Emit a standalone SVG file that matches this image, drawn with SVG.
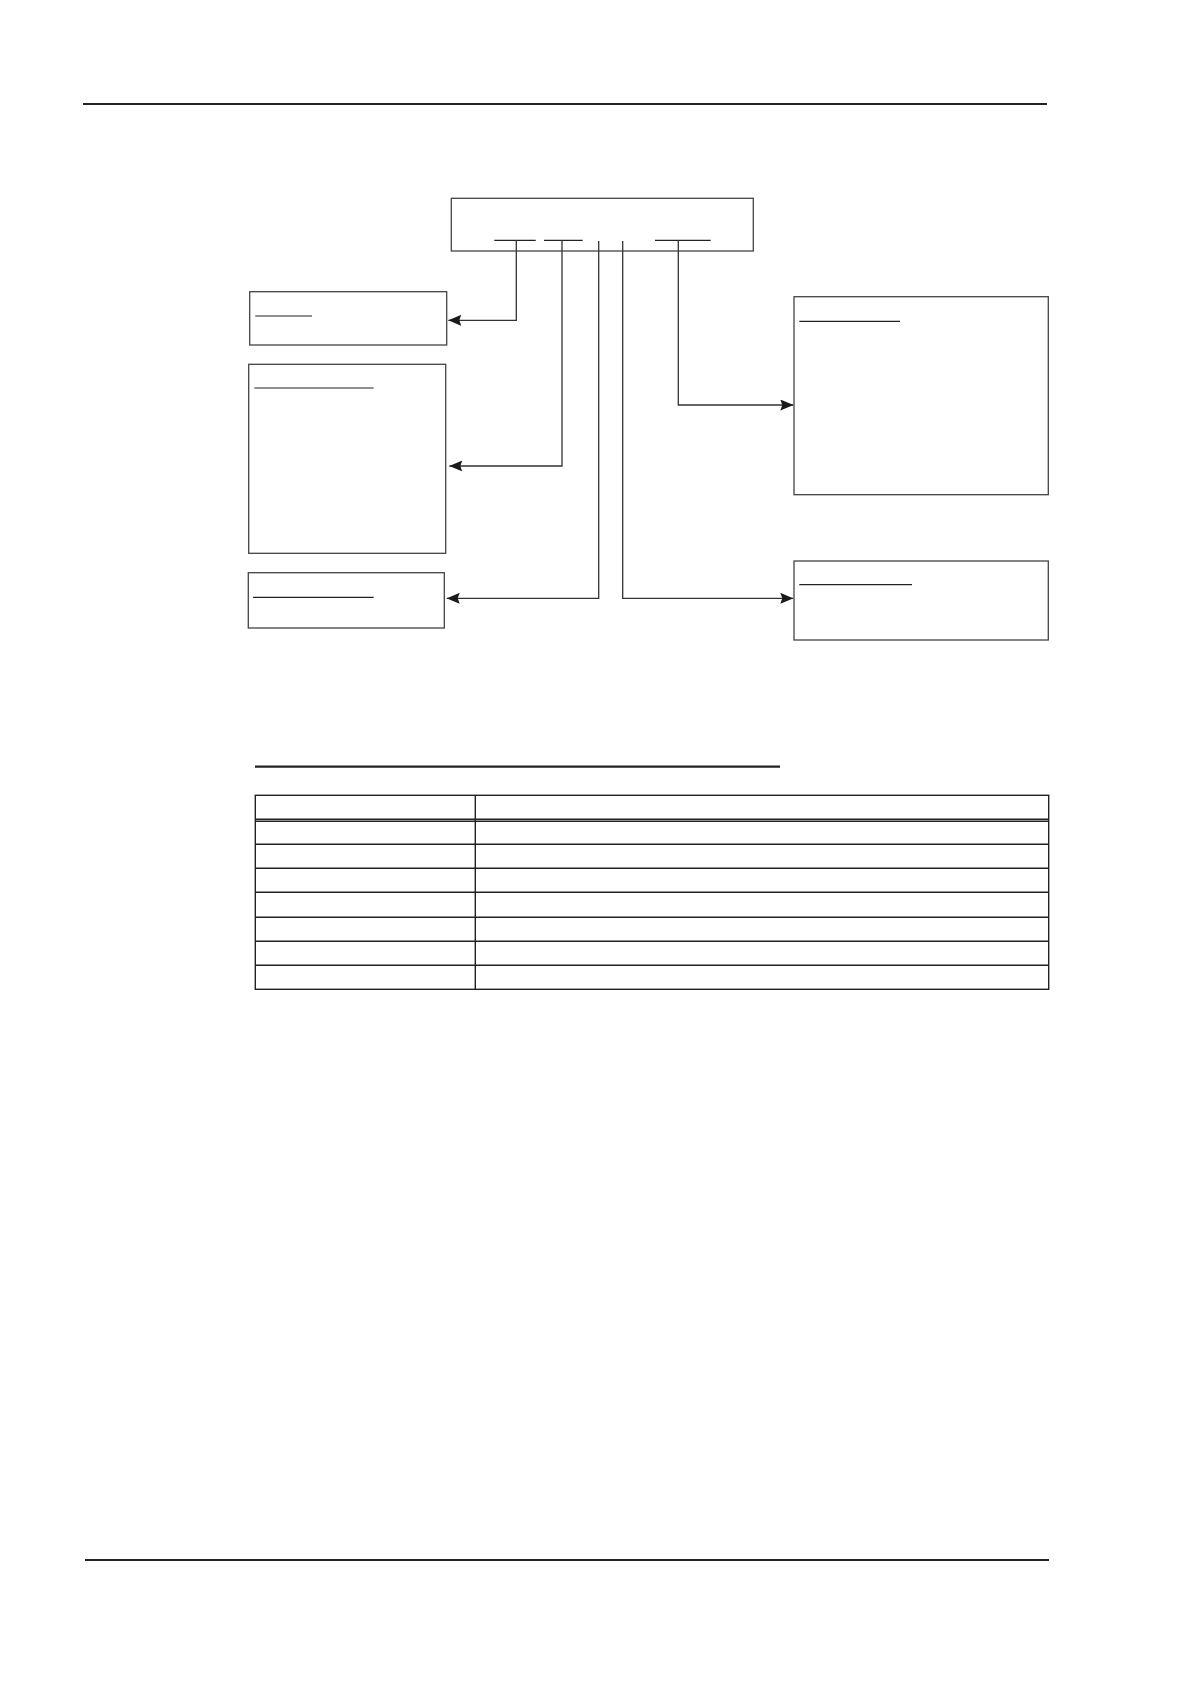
<svg xmlns="http://www.w3.org/2000/svg" width="1191" height="1684" viewBox="0 0 1191 1684">
<style>
.rule{stroke:#222;stroke-width:2.2;fill:none}
.box{fill:#fff;stroke:#444;stroke-width:1.3}
.ul{stroke:#222;stroke-width:1.2}
.conn{fill:none;stroke:#333;stroke-width:1.3}
.tbl{fill:none;stroke:#222;stroke-width:1.4}
</style>
<defs>
<marker id="ah" viewBox="0 0 13 11" refX="13" refY="5.5" markerWidth="13" markerHeight="11" markerUnits="userSpaceOnUse" orient="auto">
<path d="M0,0 L13,5.5 L0,11 L2,5.5 Z" fill="#1a1a1a"/>
</marker>
</defs>
<rect width="1191" height="1684" fill="#fff"/>
<line class="rule" x1="83" y1="104" x2="1047" y2="104"/>
<line class="rule" x1="85" y1="1560" x2="1049" y2="1560"/>

<g id="source">
<rect class="box" x="451.3" y="198.3" width="302" height="52.7"/>
<line class="ul" x1="494.3" y1="240.3" x2="535.7" y2="240.3"/>
<line class="ul" x1="544" y1="240.3" x2="582.7" y2="240.3"/>
<line class="ul" x1="655" y1="240.3" x2="710.7" y2="240.3"/>
</g>

<g id="nodeA">
<rect class="box" x="249.7" y="291.7" width="197" height="53.3"/>
<line class="ul" x1="255.3" y1="316" x2="312" y2="316"/>
</g>
<g id="nodeB">
<rect class="box" x="248.7" y="364.3" width="197" height="189"/>
<line class="ul" x1="254.3" y1="388" x2="373.7" y2="388"/>
</g>
<g id="nodeC">
<rect class="box" x="248.3" y="572.7" width="196" height="55.3"/>
<line class="ul" x1="253" y1="597.3" x2="373.7" y2="597.3"/>
</g>
<g id="nodeD">
<rect class="box" x="794" y="296.7" width="254.3" height="198"/>
<line class="ul" x1="799.3" y1="321.3" x2="900" y2="321.3"/>
</g>
<g id="nodeE">
<rect class="box" x="794" y="561" width="254.3" height="79"/>
<line class="ul" x1="799.3" y1="584.7" x2="912" y2="584.7"/>
</g>

<g id="connectors">
<polyline class="conn" points="516.3,240.3 516.3,320.3 448.3,320.3" marker-end="url(#ah)"/>
<polyline class="conn" points="562,240.3 562,466 449.3,466" marker-end="url(#ah)"/>
<polyline class="conn" points="598.7,241 598.7,598.3 446.7,598.3" marker-end="url(#ah)"/>
<polyline class="conn" points="622.7,241 622.7,598.3 793.3,598.3" marker-end="url(#ah)"/>
<polyline class="conn" points="678.3,240.3 678.3,405 793.3,405" marker-end="url(#ah)"/>
</g>

<g id="table">
<line class="rule" x1="255" y1="766.7" x2="780" y2="766.7"/>
<rect class="tbl" x="255.3" y="795.3" width="793.4" height="194"/>
<line class="tbl" x1="475.3" y1="795.3" x2="475.3" y2="989.3"/>
<line class="tbl" x1="255.3" y1="819.3" x2="1048.7" y2="819.3"/>
<line class="tbl" x1="255.3" y1="821.3" x2="1048.7" y2="821.3"/>
<line class="tbl" x1="255.3" y1="844.3" x2="1048.7" y2="844.3"/>
<line class="tbl" x1="255.3" y1="868.3" x2="1048.7" y2="868.3"/>
<line class="tbl" x1="255.3" y1="892.3" x2="1048.7" y2="892.3"/>
<line class="tbl" x1="255.3" y1="917.3" x2="1048.7" y2="917.3"/>
<line class="tbl" x1="255.3" y1="941.3" x2="1048.7" y2="941.3"/>
<line class="tbl" x1="255.3" y1="965.3" x2="1048.7" y2="965.3"/>
</g>
</svg>
